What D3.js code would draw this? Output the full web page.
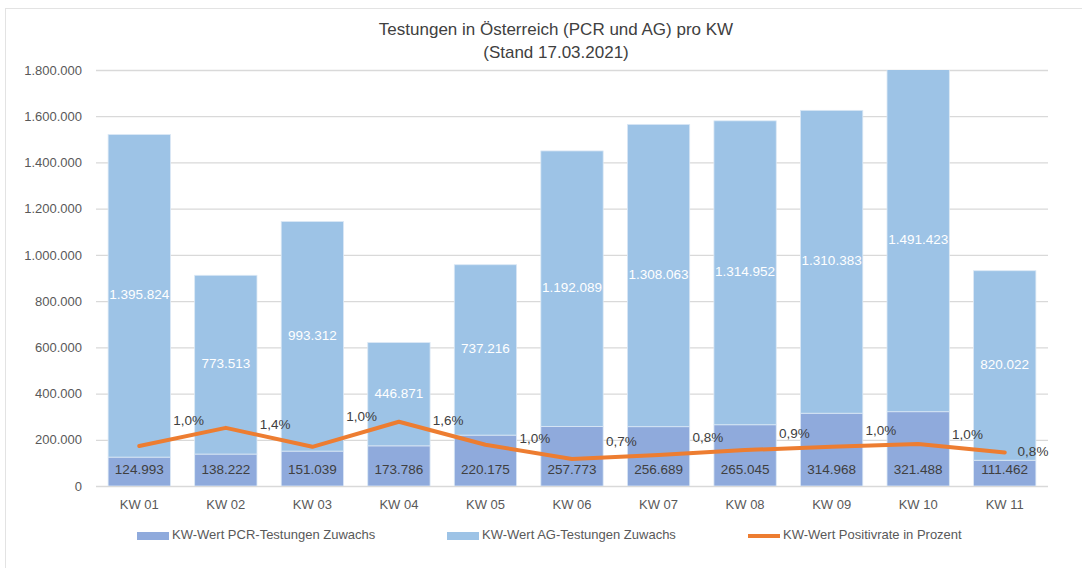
<!DOCTYPE html>
<html>
<head>
<meta charset="utf-8">
<title>Testungen KW</title>
<script src="https://d3js.org/d3.v7.min.js"></script>
<style>
  body { margin: 0; background: #fff; overflow: hidden; }
  svg text { font-family: "Liberation Sans", Arial, sans-serif; }
</style>
</head>
<body>
<svg></svg>
<script>
// --- data ---
const weeks = ["KW 01", "KW 02", "KW 03", "KW 04", "KW 05", "KW 06", "KW 07", "KW 08", "KW 09", "KW 10", "KW 11"];
const pcrTests = [124993, 138222, 151039, 173786, 220175, 257773, 256689, 265045, 314968, 321488, 111462];
const agTests = [1395824, 773513, 993312, 446871, 737216, 1192089, 1308063, 1314952, 1310383, 1491423, 820022];
const positivity = [0.99, 1.44, 0.97, 1.59, 1.02, 0.67, 0.77, 0.89, 0.97, 1.04, 0.83];
const yTicks = [0, 200000, 400000, 600000, 800000, 1000000, 1200000, 1400000, 1600000, 1800000];
const seriesNames = ["KW-Wert PCR-Testungen Zuwachs", "KW-Wert AG-Testungen Zuwachs", "KW-Wert Positivrate in Prozent"];

const W = 1082, H = 568;
const margin = { left: 96, right: 34, top: 70, bottom: 82 };
const colPCR = "#8faadc", colAG = "#9dc3e6", colLine = "#ed7d31";

const svg = d3.select("svg").attr("width", W).attr("height", H);

// chart frame
svg.append("rect").attr("x", 5.5).attr("y", 8.5).attr("width", W).attr("height", H)
  .attr("fill", "none").attr("stroke", "#e3e3e3");

const x = d3.scaleBand().domain(weeks).range([margin.left, W - margin.right]).paddingInner(0.28).paddingOuter(0.14);
const y = d3.scaleLinear().domain([0, 1800000]).range([H - margin.bottom, margin.top]);
const y2 = d3.scaleLinear().domain([0, 10.3]).range([H - margin.bottom, margin.top]);
const deFmt = d3.formatLocale({ decimal: ",", thousands: ".", grouping: [3], currency: ["", "€"] });
const fmtNum = deFmt.format(",d");
const fmtPct = deFmt.format(".1f");

// gridlines + y axis
const yAxis = d3.axisLeft(y).tickValues(yTicks).tickFormat(fmtNum).tickSize(-(W - margin.right - margin.left)).tickPadding(14);
const gy = svg.append("g").attr("transform", `translate(${margin.left},0)`).call(yAxis);
gy.select(".domain").remove();
gy.selectAll(".tick line").attr("stroke", "#d9d9d9").attr("stroke-width", 1.3);
gy.selectAll(".tick text").attr("fill", "#595959").attr("font-size", 13);

// x axis labels
const gx = svg.append("g").attr("transform", `translate(0,${H - margin.bottom})`)
  .call(d3.axisBottom(x).tickSize(0).tickPadding(14));
gx.select(".domain").remove();
gx.selectAll(".tick text").attr("fill", "#595959").attr("font-size", 13);

// stacked bars
const stackData = weeks.map((w, i) => ({ week: w, pcr: pcrTests[i], ag: agTests[i] }));
const series = d3.stack().keys(["pcr", "ag"])(stackData);
svg.append("clipPath").attr("id", "plot").append("rect")
  .attr("x", margin.left).attr("y", margin.top).attr("width", W - margin.left - margin.right).attr("height", H - margin.top - margin.bottom);

const bars = svg.append("g").attr("clip-path", "url(#plot)");
bars.selectAll("g").data(series).join("g")
  .attr("fill", d => d.key === "pcr" ? colPCR : colAG)
  .selectAll("rect").data(d => d).join("rect")
  .attr("x", d => x(d.data.week))
  .attr("width", x.bandwidth())
  .attr("y", d => y(d[1]))
  .attr("height", d => y(d[0]) - y(d[1]))
  .attr("stroke", "#dbe8f5").attr("stroke-width", 0.8);

// positivity line
const cx = w => x(w) + x.bandwidth() / 2;
const line = d3.line().x((d, i) => cx(weeks[i])).y(d => y2(d));
svg.append("path").datum(positivity).attr("d", line)
  .attr("fill", "none").attr("stroke", colLine).attr("stroke-width", 4).attr("stroke-linejoin", "round").attr("stroke-linecap", "round");

// bar value labels: PCR at inside base, AG centred in visible segment
series.forEach(s => {
  svg.append("g").selectAll("text").data(s).join("text")
    .attr("x", d => x(d.data.week) + x.bandwidth() / 2)
    .attr("y", d => s.key === "pcr" ? y(0) - 16 : (y(d[0]) + Math.max(y(d[1]), margin.top)) / 2)
    .attr("text-anchor", "middle").attr("dominant-baseline", "middle")
    .attr("font-size", 13.5)
    .attr("fill", s.key === "pcr" ? "#404040" : "#ffffff")
    .text(d => fmtNum(d[1] - d[0]));
});

// positivity labels (sit right of each point, above the line)
const step = x.step();
svg.append("g").selectAll("text").data(positivity).join("text")
  .attr("x", (d, i) => Math.min(cx(weeks[i]) + step * 0.57, W - margin.right - 15))
  .attr("y", (d, i) => {
    const last = i === positivity.length - 1;
    const nx = last ? d : positivity[i + 1];
    return y2(d + (nx - d) * 0.6) - (last ? 0 : 14);
  })
  .attr("text-anchor", "middle").attr("dominant-baseline", "middle")
  .attr("font-size", 13.5).attr("fill", "#404040")
  .text(d => fmtPct(d) + "%");

// title
const title = svg.append("text").attr("x", W / 2 + 15).attr("text-anchor", "middle")
  .attr("fill", "#404040").attr("font-size", 17);
title.append("tspan").attr("x", W / 2 + 15).attr("y", 35).text("Testungen in Österreich (PCR und AG) pro KW");
title.append("tspan").attr("x", W / 2 + 15).attr("y", 58).text("(Stand 17.03.2021)");

// legend
const legendX = [137, 447, 748];
const lg = svg.append("g").selectAll("g").data(seriesNames).join("g")
  .attr("transform", (d, i) => `translate(${legendX[i]},536)`);
lg.each(function (d, i) {
  const g = d3.select(this);
  if (i < 2) {
    g.append("rect").attr("x", 0).attr("y", -4).attr("width", 32).attr("height", 8).attr("fill", i === 0 ? colPCR : colAG);
  } else {
    g.append("line").attr("x1", 0).attr("x2", 32).attr("y1", 0).attr("y2", 0).attr("stroke", colLine).attr("stroke-width", 4);
  }
  g.append("text").attr("x", 35).attr("y", 0).attr("dominant-baseline", "middle")
    .attr("font-size", 13).attr("fill", "#595959").text(d);
});
</script>
</body>
</html>
